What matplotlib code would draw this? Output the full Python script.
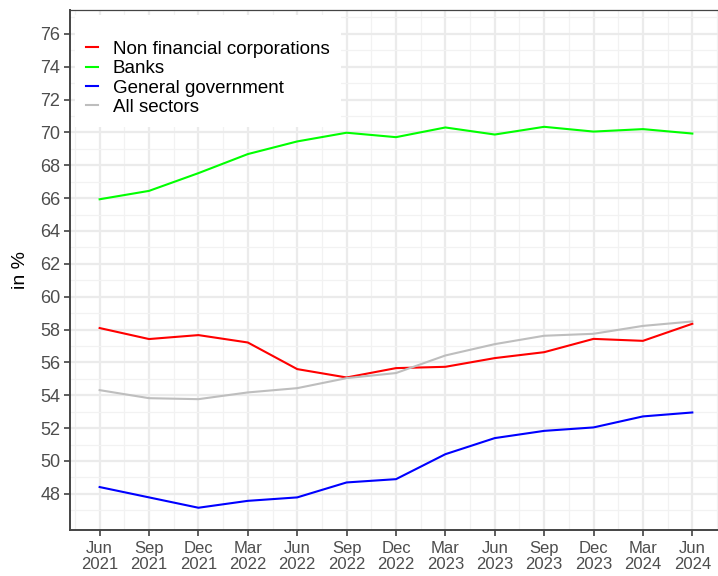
import matplotlib
matplotlib.use("Agg")
import matplotlib.pyplot as plt
from matplotlib.ticker import MultipleLocator, FixedLocator

plt.rcParams['font.family'] = ['Liberation Sans', 'DejaVu Sans']

quarters = ["Jun\n2021", "Sep\n2021", "Dec\n2021", "Mar\n2022", "Jun\n2022",
            "Sep\n2022", "Dec\n2022", "Mar\n2023", "Jun\n2023", "Sep\n2023",
            "Dec\n2023", "Mar\n2024", "Jun\n2024"]
y_ticks = list(range(48, 78, 2))

nfc = [58.09, 57.42, 57.66, 57.21, 55.59, 55.08, 55.65, 55.73, 56.26, 56.62, 57.43, 57.31, 58.35]
banks = [65.93, 66.44, 67.52, 68.68, 69.45, 69.98, 69.71, 70.30, 69.87, 70.34, 70.05, 70.20, 69.93]
gov = [48.41, 47.78, 47.15, 47.57, 47.78, 48.69, 48.89, 50.41, 51.39, 51.83, 52.04, 52.71, 52.95]
all_sectors = [54.31, 53.82, 53.76, 54.17, 54.43, 55.04, 55.35, 56.42, 57.11, 57.62, 57.74, 58.22, 58.49]

series = [
    ("Non financial corporations", nfc, "#FF0000"),
    ("Banks", banks, "#00FF00"),
    ("General government", gov, "#0000FF"),
    ("All sectors", all_sectors, "#BEBEBE"),
]

fig = plt.figure(figsize=(7.18, 5.76), dpi=100)
ax = fig.add_axes([0.0975, 0.08, 0.908, 0.9026])

x = list(range(len(quarters)))
for name, vals, col in series:
    ax.plot(x, vals, color=col, lw=1.5, label=name, zorder=3)

ax.set_xlim(-0.6, 12.6)
ax.set_ylim(45.8, 77.45)
ax.set_xticks(x)
ax.set_xticklabels(quarters)
ax.xaxis.set_minor_locator(FixedLocator([i + 0.5 for i in range(-1, len(quarters))]))
ax.yaxis.set_major_locator(FixedLocator(y_ticks))
ax.yaxis.set_minor_locator(FixedLocator([v - 1 for v in y_ticks] + [77]))

ax.grid(which='major', color='#EBEBEB', lw=1.6, zorder=0)
ax.grid(which='minor', color='#F2F2F2', lw=0.9, zorder=0)
ax.set_axisbelow(True)

for s in ax.spines.values():
    s.set_color('#444444')
    s.set_linewidth(0.9)
ax.spines['left'].set_linewidth(1.4)
ax.spines['bottom'].set_linewidth(1.4)

ax.tick_params(which='major', length=4, width=1.1, color='#333333', pad=3)
ax.tick_params(which='minor', length=0)
ax.tick_params(axis='y', labelsize=13, labelcolor='#4D4D4D')
ax.tick_params(axis='x', labelsize=12, labelcolor='#4D4D4D', pad=4)
for lab in ax.get_xticklabels():
    lab.set_linespacing(1.05)

ax.set_ylabel("in %", fontsize=14, color='black', labelpad=8)

leg = ax.legend(loc='upper left', bbox_to_anchor=(0.0077, 0.99), fontsize=13.5,
                frameon=True, fancybox=False, handlelength=0.65, handletextpad=0.75,
                labelspacing=0.12, borderpad=0.6, borderaxespad=0.0,
                title=" ", title_fontsize=9)
leg.get_frame().set_facecolor('white')
leg.get_frame().set_edgecolor('none')
leg.get_frame().set_alpha(1)
leg.set_zorder(5)

fig.savefig("out.png", dpi=100)
